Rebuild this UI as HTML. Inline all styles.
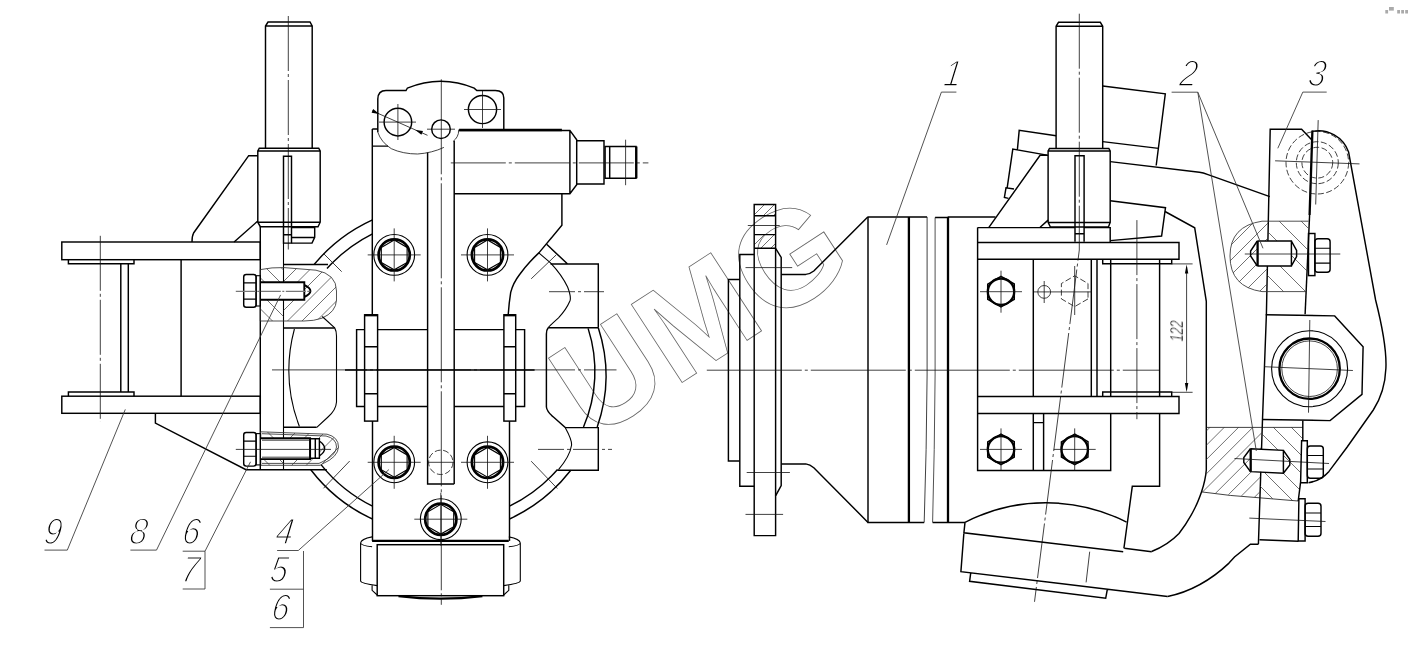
<!DOCTYPE html>
<html><head><meta charset="utf-8"><title>Drawing</title><style>
html,body{margin:0;padding:0;background:#fff}
svg{display:block}
.k{fill:none;stroke:#000;stroke-width:1.45;stroke-linejoin:miter;stroke-linecap:butt}
.K{fill:none;stroke:#000;stroke-width:2.3}
.m{fill:none;stroke:#000;stroke-width:1.1}
.t{fill:none;stroke:#111;stroke-width:.8}
.c{fill:none;stroke:#111;stroke-width:.8;stroke-dasharray:55 3 3 3}
.c2{fill:none;stroke:#111;stroke-width:.8;stroke-dasharray:95 3 3 3}
.c3{fill:none;stroke:#111;stroke-width:.8;stroke-dasharray:26 3 3 3}
.d{fill:none;stroke:#111;stroke-width:.8;stroke-dasharray:6 2.5}
.h{fill:none;stroke:#333;stroke-width:.7}
.B{fill:none;stroke:#000;stroke-width:2.7}
.kk{fill:none;stroke:#000;stroke-width:1.9}
.cg{fill:none;stroke:#777;stroke-width:1.3;stroke-dasharray:20 1.5 2 1.5}
.g{fill:none;stroke:#333;stroke-width:.85}
.w{fill:none;stroke:#666;stroke-width:.8;font-family:"Liberation Sans",sans-serif;font-size:135.5px;font-weight:bold}
.n{font-family:"Liberation Sans",sans-serif;font-style:italic;font-size:37px;fill:#000;stroke:#fff;stroke-width:1.65}
.n2{font-family:"Liberation Sans",sans-serif;font-style:italic;font-size:19px;fill:#000;stroke:#fff;stroke-width:.45}
.a{fill:#000;stroke:none}
.dot{fill:#aaa}
</style></head>
<body><svg width="1410" height="646" viewBox="0 0 1410 646">
<rect width="1410" height="646" fill="#fff"/>
<g id="labels" opacity=".999">
<text class="n" transform="translate(43.0,544.3) skewX(-8) scale(0.85,1)">9</text>
<text class="n" transform="translate(128.5,544.3) skewX(-8) scale(0.85,1)">8</text>
<text class="n" transform="translate(181.3,544.3) skewX(-8) scale(0.85,1)">6</text>
<text class="n" transform="translate(180.3,581.5) skewX(-8) scale(0.85,1)">7</text>
<text class="n" transform="translate(274.5,544.3) skewX(-8) scale(0.85,1)">4</text>
<text class="n" transform="translate(269.0,582) skewX(-8) scale(0.85,1)">5</text>
<text class="n" transform="translate(270.5,619.6) skewX(-8) scale(0.85,1)">6</text>
<text class="n" transform="translate(942.5,86) skewX(-8) scale(0.85,1)">1</text>
<text class="n" transform="translate(1178.5,86) skewX(-8) scale(0.85,1)">2</text>
<text class="n" transform="translate(1307.0,86) skewX(-8) scale(0.85,1)">3</text>
<text class="n2" transform="translate(1183,341.6) rotate(-90) scale(.67,1)">122</text>
</g>
<text class="w" transform="translate(592.5,440.7) rotate(-33)">UMG</text>
<g id="leftview">
<path class="k" d="M265.5,148.2V26L268,22H310L312.2,26V148.2M265.5,26H312.2"/>
<path class="c" d="M288.3,16L288.3,249.5"/>
<path class="k" d="M257.8,222.2V151L259.3,148.2H318.7L320.2,151V222.2L318,226.7H260.3ZM257.8,151H320.2M257.8,222.2H320.2"/>
<path class="k" d="M283.5,243.1V156.2H291.5V243.1ZM283.5,234.8H291.5"/>
<path class="k" d="M291.5,227.4H314.7V237.4L312,243.1H291.5M291.5,237.4H314.7"/>
<path class="k" d="M260.3,226.7V469.7"/>
<path class="m" d="M283.5,243V469.7"/>
<path class="k" d="M257.8,155.7H248.7L193.6,233Q192,236 192,242M257.8,221L234.1,242"/>
<rect class="k" x="61.8" y="242" width="198.5" height="17.7"/>
<path class="k" d="M68.4,259.7V263.8H134V259.7"/>
<path class="k" d="M120.8,263.8V391.9M128.3,263.8V391.9M181.1,259.7V396.2"/>
<rect class="k" x="61.8" y="396.2" width="198.5" height="17.1"/>
<path class="k" d="M68.4,396.2V391.9H134V396.2"/>
<path class="k" d="M155.4,413.3V423.1L246,469.7H326.8"/>
<path class="c" d="M100.3,235.8L100.3,421.9"/>
<clipPath id="cb1"><path d="M260.3,269.6Q272,267.2 284,267.6L316,270.2Q336.5,274 336.5,291V300Q336,312 322,318.2Q314,321 304,321H260.3Z"/></clipPath>
<g clip-path="url(#cb1)">
<clipPath id="hb1r"><path d="M283.5,260H345V330H283.5Z"/></clipPath>
<path class="h" clip-path="url(#hb1r)" d="M225.5,325L288.5,262M240.0,325L303.0,262M254.5,325L317.5,262M269.0,325L332.0,262M283.5,325L346.5,262M298.0,325L361.0,262M312.5,325L375.5,262M327.0,325L390.0,262"/>
<clipPath id="hb1l"><path d="M259,260H283.5V330H259Z"/></clipPath>
<path class="h" clip-path="url(#hb1l)" d="M198.0,262L261.0,325M213.5,262L276.5,325M229.0,262L292.0,325M244.5,262L307.5,325M260.0,262L323.0,325M275.5,262L338.5,325"/>
</g>
<path class="g" d="M260.3,269.6Q272,267.2 284,267.6L316,270.2Q336.5,274 336.5,291V300Q336,312 322,318.2Q314,321 304,321H260.3Z"/>
<rect class="k" x="243.7" y="274.5" width="12.4" height="32.7" rx="2.5"/>
<path class="m" d="M243.7,282.9H256.1M243.7,299.1H256.1"/>
<rect class="m" x="256.1" y="275.7" width="4.3" height="30.3"/>
<path d="M261,282.3H304.3V299.7H261Z" fill="#fff" stroke="none"/>
<path class="kk" d="M260.4,282.3H304.3V299.7H260.4M304.3,284.8Q310.6,288 310.4,291Q310.6,294 304.3,297.2"/>
<path class="cg" d="M235.8,291.4L311.2,291.4"/>
<clipPath id="cb2"><path d="M260.6,431.8L327,434.2Q338.5,437 338.5,447Q338,457 322.8,463.7L320,465.3H260.6Z"/></clipPath>
<g clip-path="url(#cb2)">
<clipPath id="hb2r"><path d="M283.5,425H345V470H283.5Z"/></clipPath>
<path class="h" clip-path="url(#hb2r)" d="M243.5,470L285.5,428M258.0,470L300.0,428M272.5,470L314.5,428M287.0,470L329.0,428M301.5,470L343.5,428M316.0,470L358.0,428M330.5,470L372.5,428"/>
<clipPath id="hb2l"><path d="M259,425H283.5V470H259Z"/></clipPath>
<path class="h" clip-path="url(#hb2l)" d="M217.0,428L259.0,470M232.5,428L274.5,470M248.0,428L290.0,470M263.5,428L305.5,470M279.0,428L321.0,470"/>
</g>
<path class="g" d="M260.6,431.8L327,434.2Q338.5,437 338.5,447Q338,457 322.8,463.7L320,465.3H260.6Z"/>
<path class="g" d="M262,433.7L326,436Q336.5,438.5 336.5,447Q336,455.5 322,462L319,463.4H262"/>
<rect class="k" x="243.7" y="432.4" width="12.4" height="33.7" rx="2.5"/>
<path class="m" d="M243.7,441.1H256.1M243.7,456.2H256.1"/>
<rect class="m" x="256.1" y="433.6" width="4.5" height="31.3"/>
<path d="M261,438.2H319.4V459.1H261Z" fill="#fff" stroke="none"/>
<path class="kk" d="M260.6,438.2H310.1V459.1H260.6"/>
<path class="k" d="M310.1,438.8H319.4V458.2H310.1ZM315.3,438.8V458.2M319.4,441Q324.8,445 324.6,448.6Q324.8,452 319.4,456"/>
<path class="t" d="M262,440.2H309M262,457.2H309"/>
<path class="t" d="M235.8,449.4L331,449.4"/>
<path class="k" d="M283.5,264.4H328"/>
<path class="k" d="M314.2,264.4A165,165 0 0 1 372.5,219.9"/>
<path class="k" d="M327,268.5A152.5,152.5 0 0 1 372.5,233.8"/>
<path class="t" d="M323.5,253.5L341.7,271.7"/>
<path class="k" d="M283.5,327.9H334.7M283.6,427.2H316.5"/>
<path class="m" d="M322.2,316.5L334.7,327.9Q336.5,331 336.5,336V402Q336,410 328,417L316.5,427.6"/>
<path class="m" d="M294.4,329A158.5,158.5 0 0 0 299.4,426.5"/>
<path class="k" d="M372.5,519A164,164 0 0 1 310.8,469.7"/>
<path class="k" d="M372.5,506.2A152.5,152.5 0 0 1 321.2,464.9"/>
<path class="t" d="M349.7,461L323.5,488.3"/>
<path class="k" d="M509.5,519A164,164 0 0 0 570.8,470.3"/>
<path class="k" d="M509.5,506.2A152.5,152.5 0 0 0 557.5,469.6"/>
<path class="t" d="M531.2,461.2L557.3,488.5"/>
<path class="k" d="M372.3,129V314.8M372.5,421.1V540.9M372.3,129H377.8M372.3,146.1H388"/>
<path class="k" d="M427.6,152.6V484H454.2M454.2,140.8V484"/>
<path class="k" d="M377.6,329.6H427.6M377.6,406.5H427.6M454.2,329.6H503.9M454.2,406.5H503.9"/>
<rect class="k" x="364.6" y="314.8" width="13.0" height="106.3"/>
<path class="K" d="M364.6,315.2L377.6,315.2"/>
<path class="k" d="M364.6,346.7H377.6M364.6,393.8H377.6"/>
<path class="k" d="M364.6,329.6H356.6V406.5H364.6"/>
<rect class="k" x="503.9" y="314.8" width="11.8" height="106.3"/>
<path class="K" d="M503.9,315.2L515.7,315.2"/>
<path class="k" d="M503.9,346.7H515.7M503.9,393.8H515.7"/>
<path class="k" d="M515.7,329.6H524.6V406.5H515.7"/>
<path class="k" d="M509.5,421.1V540.9"/>
<path class="k" d="M508.2,314.7Q509,303 510.7,292.4Q513,283 519.8,274.2Q528,263 539.1,252.6L561.9,225.3V193.8"/>
<path class="K" d="M372.1,540.8H508.8"/>
<rect class="k" x="377.2" y="544.7" width="126.5" height="51.0"/>
<path class="m" d="M372.1,536.9Q361,539 360.6,543V581Q361,583.5 377.2,585.6M360.6,543Q361,545.5 372.1,546.8M372.1,585.2V590.3L377.2,595"/>
<path class="m" d="M508.8,536.9Q519.9,539 520.3,543V581Q519.9,583.5 503.7,585.6M520.3,543Q519.9,545.5 508.8,546.8M508.8,585.2V590.3L503.7,595"/>
<path class="K" d="M398.5,596.2A353.2,353.2 0 0 0 482.4,596.2"/>
<path class="c2" d="M441.3,79.3L441.3,604.8"/>
<path class="c2" d="M272,369.9L616.5,369.9"/>
<path class="k" d="M345,369.9L534.6,369.9"/>
<circle class="m" cx="394.2" cy="254.9" r="20.4"/>
<circle class="B" cx="394.2" cy="254.9" r="15.6"/>
<polygon class="m" points="407.1,262.4 394.2,269.8 381.3,262.4 381.3,247.5 394.2,240.0 407.1,247.4"/>
<path class="t" d="M367.7,254.9L420.7,254.9"/>
<path class="t" d="M394.2,228.4L394.2,281.4"/>
<circle class="m" cx="487.5" cy="254.9" r="20.4"/>
<circle class="B" cx="487.5" cy="254.9" r="15.6"/>
<polygon class="m" points="500.4,262.4 487.5,269.8 474.6,262.4 474.6,247.5 487.5,240.0 500.4,247.4"/>
<path class="t" d="M461.0,254.9L514.0,254.9"/>
<path class="t" d="M487.5,228.4L487.5,281.4"/>
<circle class="m" cx="394.2" cy="462.3" r="20.4"/>
<circle class="B" cx="394.2" cy="462.3" r="15.6"/>
<polygon class="m" points="407.1,469.8 394.2,477.2 381.3,469.8 381.3,454.9 394.2,447.4 407.1,454.9"/>
<path class="t" d="M367.7,462.3L420.7,462.3"/>
<path class="t" d="M394.2,435.8L394.2,488.8"/>
<circle class="m" cx="487.5" cy="462.3" r="20.4"/>
<circle class="B" cx="487.5" cy="462.3" r="15.6"/>
<polygon class="m" points="500.4,469.8 487.5,477.2 474.6,469.8 474.6,454.9 487.5,447.4 500.4,454.9"/>
<path class="t" d="M461.0,462.3L514.0,462.3"/>
<path class="t" d="M487.5,435.8L487.5,488.8"/>
<circle class="m" cx="440.8" cy="519.2" r="20.4"/>
<circle class="B" cx="440.8" cy="519.2" r="15.6"/>
<polygon class="m" points="453.7,526.7 440.8,534.1 427.9,526.7 427.9,511.8 440.8,504.3 453.7,511.8"/>
<path class="t" d="M414.3,519.2L467.3,519.2"/>
<path class="t" d="M440.8,492.70000000000005L440.8,545.7"/>
<circle class="d" cx="440.8" cy="462.3" r="12.2"/>
<path class="t" d="M427.6,462.3L454,462.3"/>
<path class="k" d="M377.8,132.2V99Q378,90.5 386,90.5H406L407.3,88.2Q424,81.3 440.7,81.3Q458,81.3 474.2,88.2L476.8,90.5H495.3Q503.8,90.5 503.8,98V129"/>
<path class="t" d="M377.8,132.2Q381,142 391.3,148.7Q403,154 417.6,154Q432,153 443.9,147.4M458.7,129.6Q458.8,134 457.1,136.8Q455.5,139.5 453.2,141.4"/>
<circle class="k" cx="397.9" cy="122.1" r="13.8"/>
<circle class="k" cx="441" cy="129.2" r="9.3"/>
<circle class="k" cx="482.5" cy="109.5" r="14.1"/>
<path class="t" d="M397.9,104L397.9,140"/>
<path class="t" d="M379,122.1L416,122.1"/>
<path class="t" d="M482.5,91L482.5,128"/>
<path class="t" d="M464,109.5L501,109.5"/>
<path class="t" d="M427,129.2L455,129.2"/>
<path class="t" d="M372.2,110.8L427.5,135.3"/>
<polygon class="a" points="379.2,113.9 371.6,112.7 373.2,109"/>
<polygon class="a" points="415.3,129.9 423,131.1 421.4,134.8"/>
<polygon class="a" points="414.5,129.5 423,130.9 421,134.8" opacity="0"/>
<path class="k" d="M459,130.4H569.9L576.7,139.7V184.7L569.9,193.8H454.2M569.9,130.4V193.8"/>
<path class="K" d="M459.1,130L561.9,130"/>
<path class="k" d="M576.7,140.8H604V184H576.7"/>
<path class="k" d="M605.1,146.5H636V178.3H605.1ZM609.7,146.5V178.3"/>
<path class="K" d="M636.3,146.5L636.3,178.3"/>
<path class="c" d="M450.8,162.9L648.4,162.9"/>
<path class="t" d="M625.6,139.7L625.6,185.2"/>
<path class="k" d="M546.6,244.2L567.6,264M550.5,264H598.3V327.7"/>
<path class="m" d="M539.1,253.2L550.5,262.8Q562,275 567.6,287Q571.5,297 569.9,301Q566,310 558.5,317.8Q552,323.5 548.2,327.7"/>
<path class="k" d="M548.2,327.7H598.3"/>
<path class="t" d="M556.2,254.9L531.2,278.8"/>
<path class="c3" d="M549,291.7L604,291.7"/>
<path class="k" d="M548.2,327.8Q546.4,330 546.4,334V407Q547,412 554,417.5L565.3,427.6H598.3V470.3H557.3"/>
<path class="k" d="M588.1,328.4A140.3,140.3 0 0 1 583.5,427"/>
<path class="k" d="M598.3,327.8A155.0,155.0 0 0 1 597.2,427"/>
<path class="m" d="M565.3,427.8Q572,440 571.6,445Q570,456 558.5,469.6"/>
<path class="c3" d="M538,449.4L612,449.4"/>
</g>
<g id="rightview">
<path class="k" d="M739.8,279.5H728.4V461H739.8"/>
<path class="k" d="M754.2,254.4H739.8V486.2H754.2"/>
<clipPath id="hfl"><path d="M754.2,204.4H775.6V215.7H754.2ZM754.2,234.6H775.6V248.3H754.2Z"/></clipPath>
<path class="h" clip-path="url(#hfl)" d="M710.0,249L755.0,204M720.0,249L765.0,204M730.0,249L775.0,204M740.0,249L785.0,204M750.0,249L795.0,204M760.0,249L805.0,204M770.0,249L815.0,204"/>
<path class="k" d="M754.2,535.6V204.4H775.6V248.3L781.2,257.4V485.5L775.6,495.8V535.6Z"/>
<path class="k" d="M754.2,215.7H775.6M754.2,234.6H775.6M754.2,248.3H775.6M775.6,248.3V495.8"/>
<path class="t" d="M747.8,225.5L779.7,225.5"/>
<path class="c" d="M745.5,267.6L792.2,267.6"/>
<path class="t" d="M746.7,472.5L789.9,472.5"/>
<path class="t" d="M745.5,514.4L783.1,514.4"/>
<path class="k" d="M781.2,274.4H805.8Q810,274 813.8,271L868,216.8M781.2,463.9H805.8Q810,464.5 813.8,467.8L868,522.4"/>
<path class="k" d="M868,217H927.1M868,217V522.4H924.2"/>
<path class="K" d="M908.9,217L908.9,522.4"/>
<path class="t" d="M927.1,217V375Q926.6,450 924.2,522.4"/>
<path class="g" d="M935.1,217.5V375Q934.6,450 932.6,522.4"/>
<path class="k" d="M935.1,217.5H947.6M932.6,522.4H965"/>
<path class="K" d="M948,217L948,522.4"/>
<path class="k" d="M947.6,217H995.5"/>
<path class="c2" d="M706.8,370.2L1160,370.2"/>
<path class="k" d="M977.6,227.6V470.4H1110.7V413.5"/>
<path class="k" d="M977.6,227.6H1075M1084.1,227.6H1110.2"/>
<path class="k" d="M977.6,242.5H1179V259.3H977.6"/>
<path class="k" d="M977.6,396.4H1179V413.5H977.6"/>
<path class="k" d="M1102.7,259.3V263.7H1171.7V259.3M1102.7,396.4V392H1171.7V396.4"/>
<path class="t" d="M1171.7,263.9L1192.6,263.9"/>
<path class="t" d="M1171.7,392.3L1192.6,392.3"/>
<path class="k" d="M1033.3,259.3V396.4M1091.3,259.3V396.4M1097,259.3V396.4M1110.7,259.3V396.4M1159.6,259.3V396.4"/>
<path class="k" d="M1033.3,413.5V470.4M1043.6,413.5V470.4M1033.3,422.6H1043.6"/>
<path class="k" d="M1159.6,413.5V486.3H1132.3L1123.9,548.3"/>
<circle class="K" cx="1001" cy="291.7" r="13.2"/>
<polygon class="k" points="1014.3,299.3 1001.0,307.0 987.7,299.3 987.7,284.1 1001.0,276.4 1014.3,284.0"/>
<path class="t" d="M980,291.7L1022,291.7"/>
<path class="t" d="M1001,270.7L1001,312.7"/>
<circle class="K" cx="1001" cy="449.4" r="13.2"/>
<polygon class="k" points="1014.3,457.0 1001.0,464.7 987.7,457.0 987.7,441.8 1001.0,434.1 1014.3,441.7"/>
<path class="t" d="M980,449.4L1022,449.4"/>
<path class="t" d="M1001,428.4L1001,470.4"/>
<circle class="K" cx="1074.7" cy="449.4" r="13.2"/>
<polygon class="k" points="1088.0,457.0 1074.7,464.7 1061.4,457.0 1061.4,441.8 1074.7,434.1 1088.0,441.7"/>
<path class="t" d="M1053.7,449.4L1095.7,449.4"/>
<path class="t" d="M1074.7,428.4L1074.7,470.4"/>
<circle class="t" cx="1044.2" cy="291.9" r="6.4"/>
<path class="t" d="M1034,291.9L1054,291.9"/>
<path class="t" d="M1044.2,281L1044.2,303"/>
<polygon class="d" points="1088.0,298.9 1074.7,306.6 1061.4,298.9 1061.4,283.5 1074.7,275.8 1088.0,283.5"/>
<path class="t" d="M1054,291.9L1092,291.9"/>
<path class="t" d="M1074.7,266L1074.7,315"/>
<path class="k" d="M1056.1,148.4V26.2L1058.5,22.3H1100.3L1102.7,26.2V148.4M1056.1,26.2H1102.7"/>
<path class="k" d="M1048.1,222.4V151L1049.5,148.4H1108.8L1110.2,151V222.4L1108.4,227H1050.4ZM1048.1,151H1110.2M1048.1,222.4H1110.2"/>
<path class="k" d="M1075,241.8V155.7H1084.1V241.8M1075,233.8H1084.1"/>
<path class="k" d="M1110.2,227V242.5"/>
<path class="c" d="M1079.3,13.7V250L1034.5,601.8"/>
<path class="k" d="M1048.1,155.3H1040.1L988.9,227.3M1048.1,220.1L1040.1,227.3"/>
<path class="k" d="M1056.1,135.7L1019.2,130.4L1017.4,149.6M1047,155.1L1012.8,149.1L1007.1,188.3M1014,189L1006,187.8L1004.4,197.4L1008.5,198.4"/>
<path class="k" d="M1102.7,86L1165.3,93.8L1156.2,165.5M1102.7,141.6L1158.5,148.4"/>
<path class="k" d="M1110.2,161.6L1199.4,172.3Q1203,172.8 1208,174.6L1269.8,196.6"/>
<path class="k" d="M1110.2,200.8L1165.5,207.7L1161.6,236L1110.2,240.6"/>
<path class="k" d="M1165,211.5L1194.7,227.8L1206.3,301.4V470Q1205.5,480 1201.5,492Q1198,502 1194.9,508Q1188,522 1179,533.5Q1168,545 1151.6,551.5"/>
<path class="c" d="M1136.9,220.1L1136.9,419.2"/>
<path class="t" d="M1186.6,267L1186.6,389.5"/>
<polygon class="a" points="1186.6,264.5 1184.9,273.5 1188.3,273.5"/>
<polygon class="a" points="1186.6,392 1184.9,383 1188.3,383"/>
<path class="k" d="M965,522.3A177.9,177.9 0 0 1 1126.6,522.1"/>
<path class="k" d="M965,522.3L963.9,532.8L1123.2,551.7M1124.3,548.3L1151.7,551.7M963.9,532.8L960.9,571.7L1167.6,596.5M970.7,573.2L969.6,581.3L1105.7,598.3L1107.3,589.5"/>
<path class="t" d="M1089.7,551.7L1086.1,582.4"/>
<path class="k" d="M1167.6,596.5Q1201,589.5 1229,563.1L1234.5,557L1250.4,544.3H1258.4"/>
<path class="k" d="M1311.9,139.9L1301.6,129.2H1270.2L1266.4,314.3L1262.5,419.5L1258.4,544.3"/>
<path class="k" d="M1312,131.4A31.9,31.9 0 0 1 1348.6,152L1375.6,300Q1387,345 1385.9,368.3Q1385,392 1373.3,410L1347.2,447L1329,471.4Q1321,480.5 1308.5,482.8"/>
<path class="K" d="M1312.4,130.5L1309.6,215"/>
<path class="k" d="M1309.6,215L1305.1,314.3"/>
<circle class="d" cx="1317.3" cy="162.7" r="31.3"/>
<circle class="d" cx="1317.3" cy="162.7" r="21"/>
<circle class="d" cx="1317.3" cy="162.7" r="15.4"/>
<path class="t" d="M1318.2,120.1L1315.7,204.5"/>
<path class="t" d="M1275.1,160.8L1359.5,163.9"/>
<clipPath id="cub"><path d="M1308.6,221.2H1262Q1230,226 1230,256Q1230,287 1262,291.6H1306Z"/></clipPath>
<g clip-path="url(#cub)">
<clipPath id="hubl"><path d="M1225,215H1268.3L1266.8,295H1225Z"/></clipPath>
<path class="h" clip-path="url(#hubl)" d="M1152.0,294L1228.0,218M1167.0,294L1243.0,218M1182.0,294L1258.0,218M1197.0,294L1273.0,218M1212.0,294L1288.0,218M1227.0,294L1303.0,218M1242.0,294L1318.0,218M1257.0,294L1333.0,218"/>
<clipPath id="hubr"><path d="M1268.3,215H1312V295H1266.8Z"/></clipPath>
<path class="h" clip-path="url(#hubr)" d="M1188.0,218L1264.0,294M1210.0,218L1286.0,294M1232.0,218L1308.0,294M1254.0,218L1330.0,294M1276.0,218L1352.0,294M1298.0,218L1374.0,294"/>
</g>
<path class="g" d="M1308.6,221.2H1262Q1230,226 1230,256Q1230,287 1262,291.6H1306"/>
<path d="M1257.3,241H1291.4V266H1257.3Z" fill="#fff"/>
<path class="k" d="M1257.3,241H1291.4V266H1257.3M1257.3,241L1250.6,251V256L1257.3,266M1291.4,241L1296.6,250.5V256.5L1291.4,266"/>
<path class="K" d="M1257.6,241L1257.6,266"/>
<path class="t" d="M1244.8,254L1340.3,254"/>
<rect class="k" x="1308.5" y="233.5" width="6.4" height="42.1"/>
<rect class="k" x="1314.9" y="238.7" width="15.2" height="33.5" rx="3"/>
<path class="m" d="M1314.9,248.3H1330.1M1314.9,263.1H1330.1"/>
<path class="k" d="M1265.7,314.8L1334.7,315.9L1363.1,346.7L1362,394.4L1330.1,420.6L1262.5,419.5"/>
<circle class="m" cx="1309.6" cy="368.7" r="38"/>
<circle class="K" cx="1309.6" cy="368.7" r="30.2"/>
<circle class="t" cx="1309.6" cy="368.7" r="27.8"/>
<path class="t" d="M1309.8,320L1308.5,412.7"/>
<path class="t" d="M1264.1,366.7L1352.9,370.5"/>
<clipPath id="clh"><path d="M1206.3,427.4H1302.8V440L1298.2,501L1259.5,497.6L1201.5,491.9Q1205.5,480 1206.3,470Z"/></clipPath>
<g clip-path="url(#clh)">
<clipPath id="hlhl"><path d="M1195,420H1262L1259.5,505H1195Z"/></clipPath>
<path class="h" clip-path="url(#hlhl)" d="M1120.0,503L1198.0,425M1134.3,503L1212.3,425M1148.6,503L1226.6,425M1162.9,503L1240.9,425M1177.2,503L1255.2,425M1191.5,503L1269.5,425M1205.8,503L1283.8,425M1220.1,503L1298.1,425M1234.4,503L1312.4,425M1248.7,503L1326.7,425M1263.0,503L1341.0,425"/>
<clipPath id="hlhr"><path d="M1262,420H1310V505H1259.5Z"/></clipPath>
<path class="h" clip-path="url(#hlhr)" d="M1181.0,425L1259.0,503M1199.0,425L1277.0,503M1217.0,425L1295.0,503M1235.0,425L1313.0,503M1253.0,425L1331.0,503M1271.0,425L1349.0,503M1289.0,425L1367.0,503"/>
</g>
<path class="t" d="M1206.3,427.4H1302.8M1201.5,491.9Q1230,496 1259.5,497.8L1298.2,501"/>
<path class="k" d="M1302.8,420.4V440.7M1300.5,482.8L1298.2,501"/>
<path d="M1250.4,448.7L1283.4,450.5V473L1250.4,471.2Z" fill="#fff"/>
<path class="k" d="M1250.4,448.7L1283.4,450.4V473.3L1250.4,471.6M1250.4,448.7L1243.8,457.5V462.5L1250.4,471.6M1283.4,450.4L1289.8,459.5V465L1283.4,473.3"/>
<path class="K" d="M1250.7,448.7L1250.7,471.6"/>
<path class="t" d="M1234.5,458.5L1329,463.5"/>
<path class="k" d="M1301.6,440.7H1307.3V482.8H1300.6Z"/>
<rect class="k" x="1307.3" y="446" width="16.0" height="32.3" rx="3"/>
<path class="m" d="M1307.3,455.5H1323.3M1307.3,469H1323.3"/>
<path class="k" d="M1298.9,498.8H1305.1V540.9H1298.2Z"/>
<rect class="k" x="1305.1" y="503.3" width="15.9" height="33.0" rx="3"/>
<path class="m" d="M1305.1,513H1321M1305.1,526.5H1321"/>
<path class="t" d="M1249.3,518.1L1325.5,521.5"/>
<path class="k" d="M1259.5,539.7L1298.5,541.3"/>
</g>
<g id="leaders">
<path class="g" d="M941.4,92.1H956.4M941.4,92.1L886.6,244.9"/>
<path class="g" d="M1171.6,92.2H1197.8L1263,248.3M1197.8,92.2L1256.3,451"/>
<path class="g" d="M1326.7,92.1H1302.8L1277.8,148.3"/>
<path class="g" d="M277.1,550.5H298.3L388.9,469.6M303.5,551V627.6H269.9M269.9,589.2H303.5"/>
<path class="g" d="M182.7,551.2H205L250.5,461.8M205,551.2V589H182.7"/>
<path class="g" d="M130.4,550.1H156.5L280.6,294.9"/>
<path class="g" d="M44.5,550.1H67.3L125.3,409.4"/>
</g>
<rect class="dot" x="1385.3" y="10" width="2.8" height="3.5"/>
<rect class="dot" x="1389" y="7" width="4.8" height="3.6"/>
<rect class="dot" x="1397.2" y="10" width="2.8" height="3.5"/>
<rect class="dot" x="1401.2" y="10" width="2.8" height="3.5"/>
<rect class="dot" x="1405.2" y="10" width="2.8" height="3.5"/>
</svg></body></html>
